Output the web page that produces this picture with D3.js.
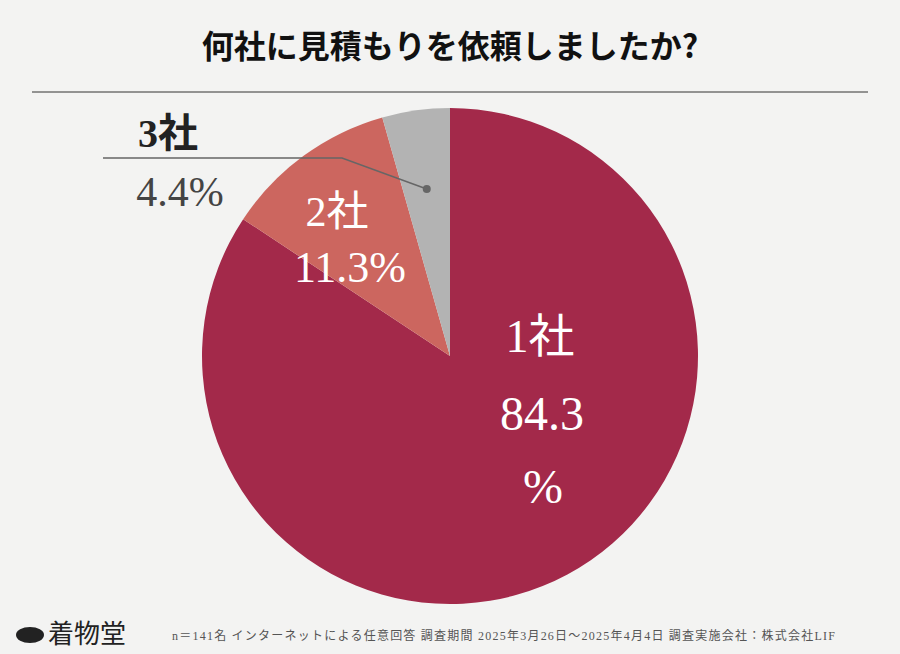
<!DOCTYPE html>
<html><head><meta charset="utf-8">
<script src="https://cdn.jsdelivr.net/npm/d3@7"></script>
<style>body{margin:0;background:#f3f3f2}svg{display:block}</style></head>
<body><svg id="c" width="900" height="654"></svg>
<script>
const categories = ["1社","2社","3社"];
const values = [84.3, 11.3, 4.4];
const labels = ["84.3%","11.3%","4.4%"];
const colors = ["#a3294a","#cc665f","#b3b3b3"];
const svg = d3.select("#c");
const serif = "'Liberation Serif','Noto Sans CJK JP',serif";
svg.append("rect").attr("width",900).attr("height",654).attr("fill","#f3f3f2");
svg.append("text").attr("x",450).attr("y",58).attr("text-anchor","middle")
  .attr("font-family","'Noto Sans CJK JP',sans-serif").attr("font-weight",700)
  .attr("font-size",32).attr("fill","#111").text("何社に見積もりを依頼しましたか?");
svg.append("line").attr("x1",32).attr("x2",868).attr("y1",92).attr("y2",92).attr("stroke","#333").attr("stroke-width",1);
const cx=450, cy=356, r=248;
const pie = d3.pie().sort(null)(values);
const arc = d3.arc().innerRadius(0).outerRadius(r);
const g = svg.append("g").attr("transform",`translate(${cx},${cy})`);
g.selectAll("path").data(pie).join("path").attr("d",arc).attr("fill",(d,i)=>colors[i]);
function txt(x,y,s,size,fill,w){svg.append("text").attr("x",x).attr("y",y).attr("text-anchor","middle")
 .attr("font-family",serif).attr("font-size",size).attr("fill",fill).attr("font-weight",w||400).text(s);}
txt(540,352,categories[0],46,"#fff");
txt(542,430,"84.3",48,"#fff");
txt(543,503,"%",48,"#fff");
txt(337,226,categories[1],42,"#fff");
txt(350,282,labels[1],44,"#fff");
txt(168,147,categories[2],40,"#222",700);
txt(180,206,labels[2],42,"#444");
const a = d3.arc().innerRadius(r*0.68).outerRadius(r*0.68).centroid(pie[2]);
svg.append("polyline").attr("points",`103,158 342,158 ${cx+a[0]},${cy+a[1]}`)
 .attr("fill","none").attr("stroke","#666").attr("stroke-width",1.5);
svg.append("circle").attr("cx",cx+a[0]).attr("cy",cy+a[1]).attr("r",4).attr("fill","#666");
svg.append("text").attr("x",48).attr("y",643).attr("font-family",serif).attr("font-size",26).attr("fill","#222").text("着物堂");
svg.append("ellipse").attr("cx",30).attr("cy",635).attr("rx",14).attr("ry",8).attr("fill","#222");
svg.append("text").attr("x",172).attr("y",640).attr("font-family",serif).attr("font-size",12).attr("fill","#555")
 .attr("textLength",663).text("n＝141名 インターネットによる任意回答 調査期間 2025年3月26日～2025年4月4日 調査実施会社：株式会社LIF");
</script></body></html>
